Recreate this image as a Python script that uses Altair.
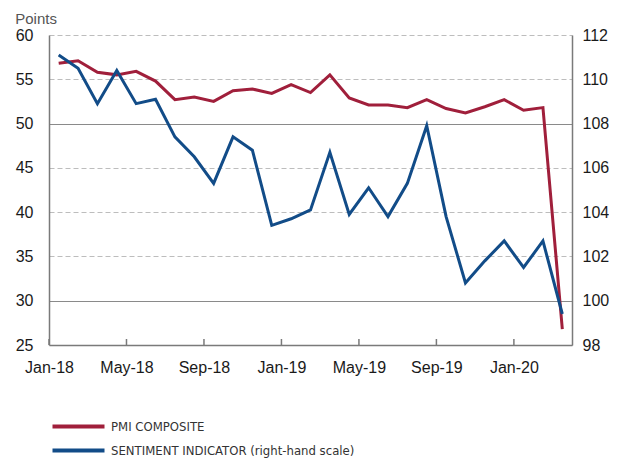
import altair as alt
import pandas as pd

months = ["Jan-18", "Feb-18", "Mar-18", "Apr-18", "May-18", "Jun-18", "Jul-18", "Aug-18",
          "Sep-18", "Oct-18", "Nov-18", "Dec-18", "Jan-19", "Feb-19", "Mar-19", "Apr-19",
          "May-19", "Jun-19", "Jul-19", "Aug-19", "Sep-19", "Oct-19", "Nov-19", "Dec-19",
          "Jan-20", "Feb-20", "Mar-20"]
pmi = [56.8, 57.1, 55.8, 55.5, 55.9, 54.8, 52.7, 53.0, 52.5, 53.7, 53.9, 53.4, 54.4, 53.5,
       55.5, 52.9, 52.1, 52.1, 51.8, 52.7, 51.7, 51.2, 51.9, 52.7, 51.5, 51.8, 26.8]
sentiment = [111.1, 110.5, 108.9, 110.4, 108.9, 109.1, 107.4, 106.5, 105.3, 107.4, 106.8,
             103.4, 103.7, 104.1, 106.7, 103.9, 105.1, 103.8, 105.3, 107.9, 103.8, 100.8,
             101.8, 102.7, 101.5, 102.7, 99.4]
tick_labels = ["Jan-18", "May-18", "Sep-18", "Jan-19", "May-19", "Sep-19", "Jan-20"]
series_names = ["PMI COMPOSITE", "SENTIMENT INDICATOR (right-hand scale)"]
series_colors = ["#A01F3B", "#124C88"]

idx = {m: i for i, m in enumerate(months)}
df_pmi = pd.DataFrame({"t": [i + 0.5 for i in range(len(months))], "v": pmi,
                       "series": series_names[0], "month": months})
df_sent = pd.DataFrame({"t": [i + 0.5 for i in range(len(months))], "v": sentiment,
                        "series": series_names[1], "month": months})
df_ticks = pd.DataFrame({"t": [idx[m] for m in tick_labels], "label": tick_labels})

label_expr = "{" + ",".join(f"'{idx[m]}':'{m}'" for m in tick_labels) + "}[''+datum.value]"

x_enc = alt.X("t:Q", scale=alt.Scale(domain=[0, 27], nice=False, zero=False),
              axis=alt.Axis(values=[idx[m] for m in tick_labels], labelExpr=label_expr,
                            title=None, grid=False, ticks=False, labelPadding=14,
                            labelFlush=False, labelOverlap=False,
                            labelFontSize=16, labelColor="#1a1a1a", domainColor="#7a7a7a",
                            domainWidth=1.5, labelFont="Liberation Sans"))

color = alt.Color("series:N", scale=alt.Scale(domain=series_names, range=series_colors),
                  legend=alt.Legend(title=None, orient="none", legendX=21, legendY=383,
                                    direction="vertical", symbolType="M-4,0H4",
                                    symbolStrokeWidth=4, symbolSize=169,
                                    labelFont="Liberation Sans Narrow, Arial Narrow, DejaVu Sans Condensed, Roboto",
                                    labelFontSize=13, labelLimit=400,
                                    labelColor="#333333", rowPadding=7, labelOffset=24))

line_pmi = alt.Chart(df_pmi).mark_line(strokeWidth=3).encode(
    x=x_enc,
    y=alt.Y("v:Q", scale=alt.Scale(domain=[25, 60], nice=False, zero=False),
            axis=alt.Axis(values=list(range(25, 61, 5)), title=None, orient="left",
                          ticks=False, labelPadding=16, labelFontSize=16,
                          labelColor="#1a1a1a", domainColor="#7a7a7a", domainWidth=1.5,
                          labelFont="Liberation Sans",
                          grid=True,
                          gridColor={"condition": {"test": "datum.value === 30 || datum.value === 50",
                                                   "value": "#8a8a8a"}, "value": "#bdbdbd"},
                          gridDash={"condition": {"test": "datum.value === 30 || datum.value === 50",
                                                  "value": []}, "value": [5, 3]},
                          gridWidth=1.2)),
    color=color,
    order="t:Q",
)

line_sent = alt.Chart(df_sent).mark_line(strokeWidth=3).encode(
    x=x_enc,
    y=alt.Y("v:Q", scale=alt.Scale(domain=[98, 112], nice=False, zero=False),
            axis=alt.Axis(values=list(range(98, 113, 2)), title=None, orient="right",
                          ticks=False, labelPadding=10, labelFontSize=16,
                          labelColor="#1a1a1a", domainColor="#7a7a7a", domainWidth=1.5,
                          labelFont="Liberation Sans", grid=False)),
    color=color,
    order="t:Q",
)

ticks = alt.Chart(df_ticks).mark_rule(color="#7a7a7a", strokeWidth=1.5).encode(
    x=alt.X("t:Q"),
    y=alt.value(304),
    y2=alt.value(310),
)

chart = alt.layer(ticks, line_pmi, line_sent).resolve_scale(y="independent").properties(
    width=523, height=310,
    padding={"left": 7, "top": 4, "right": 0, "bottom": 0},
    title=alt.TitleParams("Points", anchor="start", fontSize=15, fontWeight="normal",
                          color="#555555", font="Liberation Sans", offset=0),
).configure_view(stroke=None)

chart.save("out.html", embed_options={"renderer": "svg", "actions": False})
